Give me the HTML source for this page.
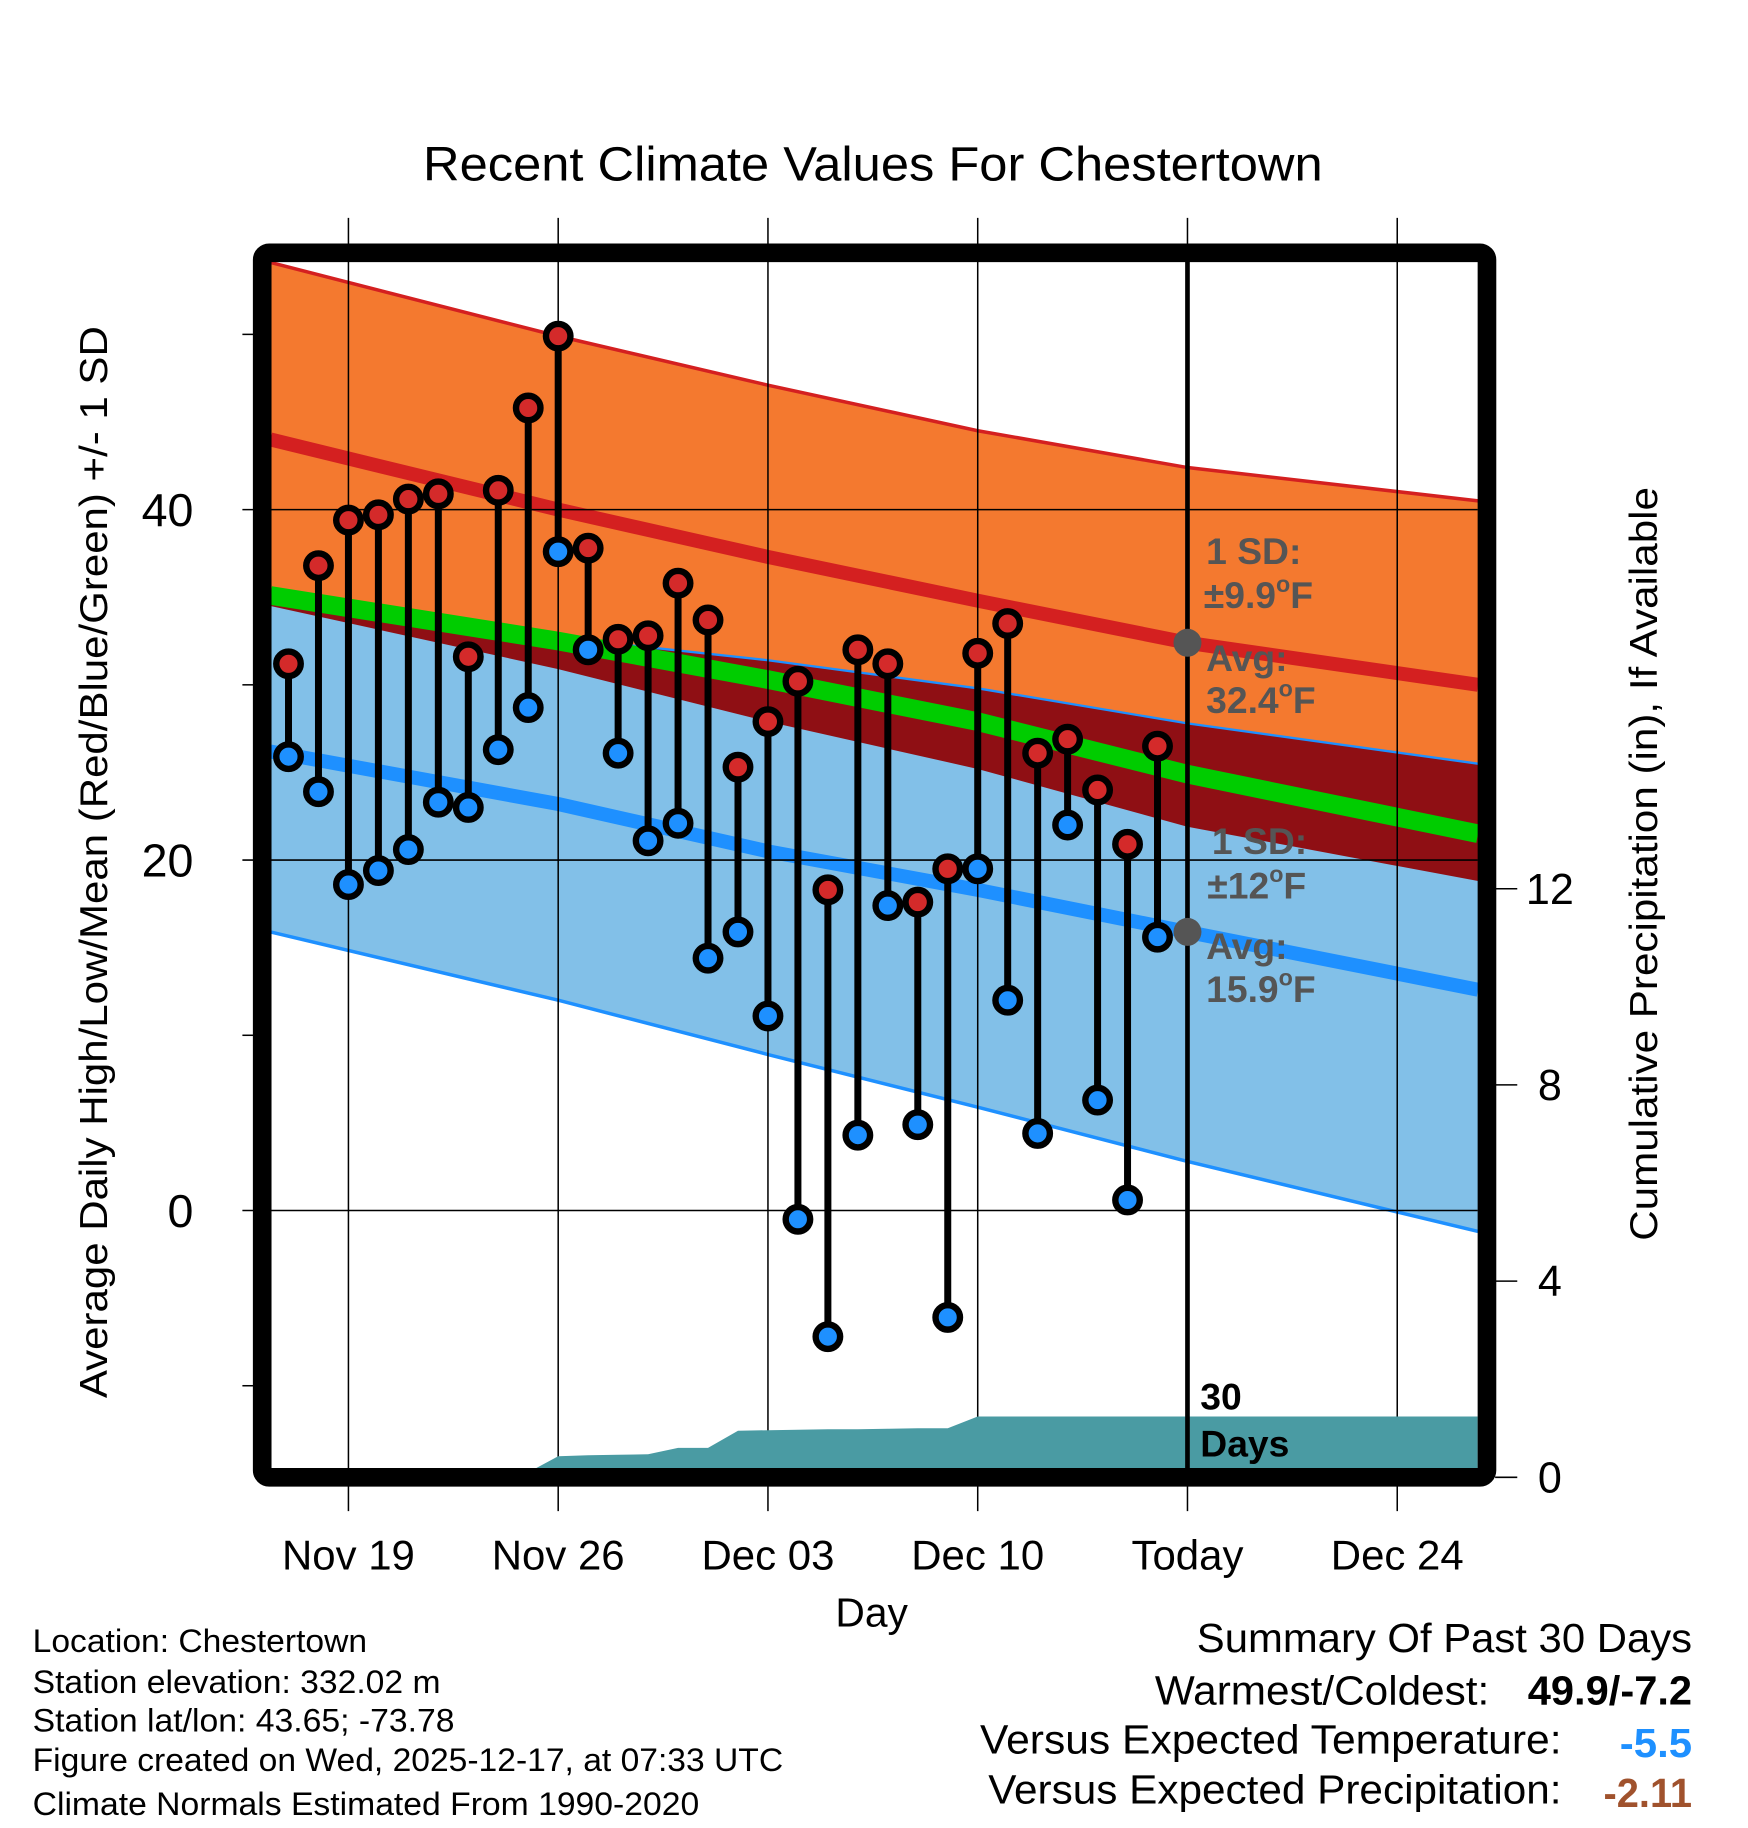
<!DOCTYPE html>
<html><head><meta charset="utf-8"><style>
html,body{margin:0;padding:0;background:#fff}
svg{display:block}
text{font-family:"Liberation Sans",sans-serif}
</style></head><body>
<svg id="chart" width="1748" height="1828" viewBox="0 0 1500 1569" preserveAspectRatio="none" xmlns="http://www.w3.org/2000/svg">
<g id="bands"></g>
<g id="grid"></g>
<g id="precip"></g>
<g id="marks"></g>
<text x="363" y="155" font-size="41" textLength="772" lengthAdjust="spacingAndGlyphs">Recent Climate Values For Chestertown</text>
<text transform="translate(92,1200) rotate(-90)" font-size="33" textLength="920" lengthAdjust="spacingAndGlyphs">Average Daily High/Low/Mean (Red/Blue/Green) +/- 1 SD</text>
<text transform="translate(1422,1065) rotate(-90)" font-size="33" textLength="647" lengthAdjust="spacingAndGlyphs">Cumulative Precipitation (in), If Available</text>
<text x="748" y="1396" text-anchor="middle" font-size="35">Day</text>
<g font-size="32" fill="#555" font-weight="bold">
<text x="1035" y="484">1 SD:</text>
<text x="1033" y="522">±9.9<tspan font-size="20" dy="-14">o</tspan><tspan dy="14">F</tspan></text>
<text x="1035" y="576">Avg:</text>
<text x="1035" y="612">32.4<tspan font-size="20" dy="-14">o</tspan><tspan dy="14">F</tspan></text>
<text x="1040" y="733">1 SD:</text>
<text x="1036" y="771">±12<tspan font-size="20" dy="-14">o</tspan><tspan dy="14">F</tspan></text>
<text x="1035" y="823">Avg:</text>
<text x="1035" y="860">15.9<tspan font-size="20" dy="-14">o</tspan><tspan dy="14">F</tspan></text>
</g>
<g font-size="32" font-weight="bold">
<text x="1030" y="1210">30</text><text x="1030" y="1250">Days</text>
</g>
<g font-size="28">
<text x="28" y="1418" textLength="287" lengthAdjust="spacingAndGlyphs">Location: Chestertown</text>
<text x="28" y="1453" textLength="350" lengthAdjust="spacingAndGlyphs">Station elevation: 332.02 m</text>
<text x="28" y="1486" textLength="362" lengthAdjust="spacingAndGlyphs">Station lat/lon: 43.65; -73.78</text>
<text x="28" y="1520" textLength="644" lengthAdjust="spacingAndGlyphs">Figure created on Wed, 2025-12-17, at 07:33 UTC</text>
<text x="28" y="1558" textLength="572" lengthAdjust="spacingAndGlyphs">Climate Normals Estimated From 1990-2020</text>
</g>
<g>
<text x="1027" y="1418" font-size="35" textLength="425" lengthAdjust="spacingAndGlyphs">Summary Of Past 30 Days</text>
<text x="991" y="1463" font-size="35" textLength="287" lengthAdjust="spacingAndGlyphs">Warmest/Coldest:</text>
<text x="1311" y="1463" font-size="35" font-weight="bold" textLength="141" lengthAdjust="spacingAndGlyphs">49.9/-7.2</text>
<text x="841" y="1505" font-size="35" textLength="499" lengthAdjust="spacingAndGlyphs">Versus Expected Temperature:</text>
<text x="1390" y="1508" font-size="35" font-weight="bold" fill="#1e90ff" textLength="62" lengthAdjust="spacingAndGlyphs">-5.5</text>
<text x="848" y="1548" font-size="35" textLength="492" lengthAdjust="spacingAndGlyphs">Versus Expected Precipitation:</text>
<text x="1376" y="1551" font-size="35" font-weight="bold" fill="#a0522d" textLength="76" lengthAdjust="spacingAndGlyphs">-2.11</text>
</g>
<g id="axes"></g>
</svg>
<script>
// data (day index: 0 = Nov 19)
const days = [-2,-1,0,1,2,3,4,5,6,7,8,9,10,11,12,13,14,15,16,17,18,19,20,21,22,23,24,25,26,27];
const highs = [31.2,36.8,39.4,39.7,40.6,40.9,31.6,41.1,45.8,49.9,37.8,32.6,32.8,35.8,33.7,25.3,27.9,30.2,18.3,32.0,31.2,17.6,19.5,31.8,33.5,26.1,26.9,24.0,20.9,26.5];
const lows = [25.9,23.9,18.6,19.4,20.6,23.3,23.0,26.3,28.7,37.6,32.0,26.1,21.1,22.1,14.4,15.9,11.1,-0.5,-7.2,4.3,17.4,4.9,-6.1,19.5,12.0,4.4,22.0,6.3,0.6,15.6];
const precip = [0,0,0,0,0,0,0,0,0.1,0.43,0.45,0.46,0.47,0.6,0.6,0.95,0.96,0.97,0.98,0.98,0.99,1.0,1.0,1.24,1.24,1.24,1.24,1.24,1.24,1.24];
const normDays = [-2.6,7,14,21,28,37.7];
const highUp = [54.1,49.9,47.1,44.5,42.4,40.5];
const highMean = [44.0,40.0,37.3,34.8,32.4,30.0];
const highDown = [34.5,30.9,27.9,25.2,21.9,18.8];
const lowUp = [34.7,32.7,31.4,29.8,27.8,25.5];
const meanAvg = [35.1,32.5,30.3,27.9,24.9,21.5];
const lowMean = [26.2,23.2,20.5,18.3,15.9,12.6];
const lowDown = [15.9,12.0,8.9,5.9,2.8,-1.2];
const yTicks = [0,20,40];
const yMinor = [-10,10,30,50];
const pTicks = [0,4,8,12];
const xTickDays = [0,7,14,21,28,35];
const xTickLabels = ["Nov 19","Nov 26","Dec 03","Dec 10","Today","Dec 24"];

const NS="http://www.w3.org/2000/svg";
const X = d => 299 + d*180/7;
const Y = v => 1039 - v*15.04;
const P = p => 1268 - p*42.1;
const L=232,R=1268,T=224,B=1260;
function mk(tag, attrs, parent){const e=document.createElementNS(NS,tag);for(const k in attrs)e.setAttribute(k,attrs[k]);parent.appendChild(e);return e;}
const bands=document.getElementById('bands'),grid=document.getElementById('grid'),pg=document.getElementById('precip'),marks=document.getElementById('marks'),axes=document.getElementById('axes');
const pts = arr => arr.map((v,i)=>X(normDays[i]).toFixed(1)+','+Y(v).toFixed(1));
function poly(a,b,fill,name){const p=mk('polygon',{points:pts(a).concat(pts(b).reverse()).join(' '),fill:fill},bands);

}
function line(a,color,w,name){const p=mk('polyline',{points:pts(a).join(' '),fill:'none',stroke:color,'stroke-width':w},bands);

}
poly(highUp,highDown,'#f4792f','high-sd-band');
poly(lowUp,lowDown,'#82c0e8','low-sd-band');
poly(lowUp,highDown,'#8f0f14','overlap-band');
line(highUp,'#d42020',3,'high-upper-line');
line(lowUp,'#1e90ff',2,'low-upper-line');
line(lowDown,'#1e90ff',3,'low-lower-line');
line(meanAvg,'#00cc00',16,'mean-line');
line(highMean,'#d42020',12,'high-mean-line');
line(lowMean,'#1e90ff',12,'low-mean-line');
yTicks.forEach(v=>{const g=mk('line',{x1:208,x2:R,y1:Y(v),y2:Y(v),stroke:'#000','stroke-width':1.3},grid);

});
xTickDays.forEach(d=>{const g=mk('line',{x1:X(d),x2:X(d),y1:187,y2:1297,stroke:'#000','stroke-width':1.3},grid);

});
let pp=[L+','+P(0)];
days.forEach((d,i)=>pp.push(X(d)+','+P(precip[i])));
pp.push(R+','+P(precip[precip.length-1]));pp.push(R+','+P(0));
const pa=mk('polygon',{points:pp.join(' '),fill:'#4a9ba3'},pg);


const tl=mk('line',{x1:X(28),x2:X(28),y1:T,y2:B,stroke:'#000','stroke-width':4},marks);


days.forEach((d,i)=>{
 const s=mk('line',{x1:X(d),x2:X(d),y1:Y(highs[i]),y2:Y(lows[i]),stroke:'#000','stroke-width':6},marks);
 
 
});
days.forEach((d,i)=>{
 const h=mk('circle',{cx:X(d),cy:Y(highs[i]),r:10.5,fill:'#d42a2a',stroke:'#000','stroke-width':5.5},marks);
 
 
 const l=mk('circle',{cx:X(d),cy:Y(lows[i]),r:10.5,fill:'#1e90ff',stroke:'#000','stroke-width':5.5},marks);
 
 
});
[highMean[4],lowMean[4]].forEach(v=>{const c=mk('circle',{cx:X(28),cy:Y(v),r:12,fill:'#555'},marks);

});
const fr=mk('rect',{x:225,y:217,width:1051,height:1051,rx:6,fill:'none',stroke:'#000','stroke-width':16},axes);


yMinor.forEach(v=>{const t=mk('line',{x1:208,x2:218,y1:Y(v),y2:Y(v),stroke:'#000','stroke-width':1.3},axes);

});
yTicks.forEach(v=>{const t=mk('text',{x:166,y:Y(v)+14,'text-anchor':'end','font-size':40},axes);t.textContent=v;

});
pTicks.forEach(p=>{const t=mk('line',{x1:1283,x2:1302,y1:P(p),y2:P(p),stroke:'#000','stroke-width':1.3},axes);


const l=mk('text',{x:1330,y:P(p)+13,'text-anchor':'middle','font-size':37},axes);l.textContent=p;

});
xTickDays.forEach((d,i)=>{const t=mk('text',{x:X(d),y:1347,'text-anchor':'middle','font-size':36},axes);t.textContent=xTickLabels[i];

});
</script>
</body></html>
